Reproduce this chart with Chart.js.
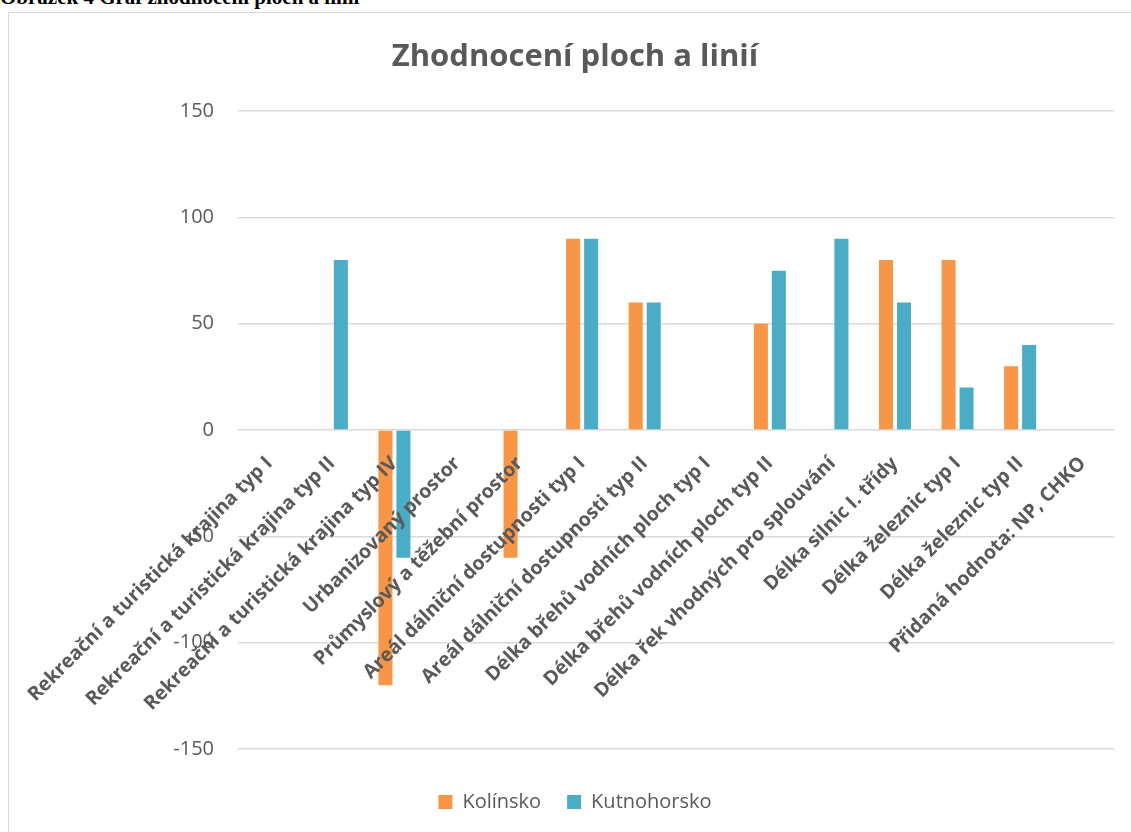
<!DOCTYPE html>
<html>
<head>
<meta charset="utf-8">
<script src="https://cdn.jsdelivr.net/npm/chart.js@4.4.1/dist/chart.umd.min.js"></script>
<style>
  html, body { margin: 0; padding: 0; background: #fff; overflow: hidden; }
  body { width: 1131px; height: 832px; position: relative; }
  .caption {
    position: absolute; left: 0; top: -13px; white-space: nowrap;
    font: bold 21px/21px "Liberation Serif", serif; color: #000;
  }
  .frame {
    position: absolute; left: 8px; top: 12px; width: 1140px; height: 840px;
    border: 1px solid #d9d9d9;
  }
  .wrap { position: absolute; left: 9px; top: 13px; width: 1132px; height: 819px; }
</style>
</head>
<body>
<div class="caption">Obrázek 4 Graf zhodnocení ploch a linií</div>
<div class="frame"></div>
<div class="wrap"><canvas id="chart"></canvas></div>
<script>
const categories = [
  'Rekreační a turistická krajina typ I',
  'Rekreační a turistická krajina typ II',
  'Rekreační a turistická krajina typ IV',
  'Urbanizovaný prostor',
  'Průmyslový a těžební prostor',
  'Areál dálniční dostupnosti typ I',
  'Areál dálniční dostupnosti typ II',
  'Délka břehů vodních ploch typ I',
  'Délka břehů vodních ploch typ II',
  'Délka řek vhodných pro splouvání',
  'Délka silnic I. třídy',
  'Délka železnic typ I',
  'Délka železnic typ II',
  'Přidaná hodnota: NP, CHKO'
];
const kolinsko = [0, 0, -120, 0, -60, 90, 60, 0, 50, 0, 80, 80, 30, 0];
const kutnohorsko = [0, 80, -60, 0, 0, 90, 60, 0, 75, 90, 60, 20, 40, 0];
const yMin = -150;
const yMax = 150;
const yStep = 50;

const textColor = '#595959';

function draw() {
  Chart.defaults.font.family = "'Open Sans', sans-serif";
  Chart.defaults.color = textColor;

  const ctx = document.getElementById('chart').getContext('2d');
  new Chart(ctx, {
    type: 'bar',
    data: {
      labels: categories,
      datasets: [
        {
          label: 'Kolínsko',
          data: kolinsko,
          backgroundColor: '#F79646',
          borderWidth: 0
        },
        {
          label: 'Kutnohorsko',
          data: kutnohorsko,
          backgroundColor: '#4BACC6',
          borderWidth: 0
        }
      ]
    },
    options: {
      responsive: true,
      maintainAspectRatio: false,
      animation: false,
      categoryPercentage: 0.575,
      barPercentage: 0.78,
      layout: { padding: { left: 27, right: 27, top: 0, bottom: 10 } },
      scales: {
        x: {
          // category labels hang from the zero line, drawn over the bars
          position: { y: 0 },
          grid: { display: false },
          border: { display: false },
          ticks: {
            z: 1,
            autoSkip: false,
            minRotation: 45,
            maxRotation: 45,
            padding: 14,
            color: textColor,
            font: { size: 19.5, weight: 'bold' }
          },
          afterFit: scale => { scale.height = 11; }
        },
        y: {
          min: yMin,
          max: yMax,
          grid: { color: '#d9d9d9', lineWidth: 1.5, drawTicks: false },
          border: { display: false },
          ticks: {
            stepSize: yStep,
            padding: 24,
            color: textColor,
            font: { size: 20 }
          },
          afterFit: scale => { scale.width = 202; }
        }
      },
      plugins: {
        title: {
          display: true,
          text: 'Zhodnocení ploch a linií',
          color: textColor,
          font: { size: 31, weight: 'bold' },
          padding: { top: 26, bottom: 35 }
        },
        legend: {
          position: 'bottom',
          // empty title only pushes the legend items down a bit
          title: { display: true, text: '', font: { size: 14.2 }, padding: 0 },
          labels: {
            boxWidth: 14,
            boxHeight: 14,
            padding: 26,
            color: textColor,
            font: { size: 20 }
          }
        },
        tooltip: { enabled: false }
      }
    }
  });
}

Promise.all([
  document.fonts.load("16px 'Open Sans'"),
  document.fonts.load("bold 16px 'Open Sans'"),
  document.fonts.load("bold 18px 'Liberation Serif'")
]).then(draw, draw);
</script>
</body>
</html>
